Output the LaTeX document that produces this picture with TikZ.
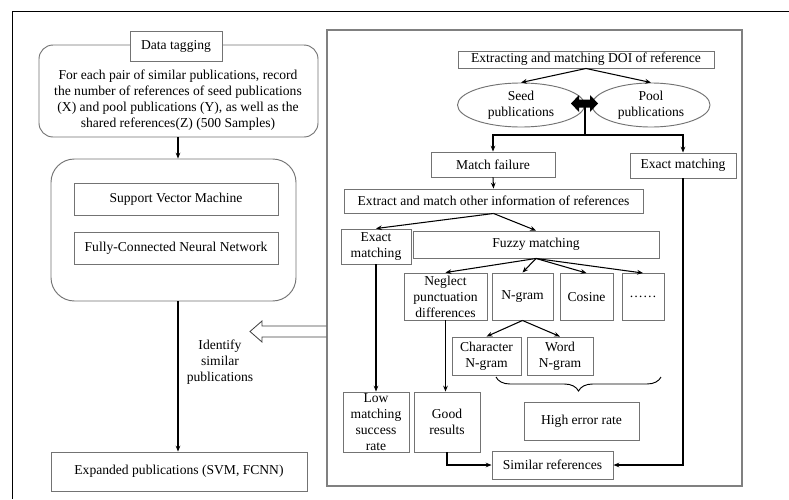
\documentclass[tikz,border=0pt]{standalone}
\usepackage{fontspec}
\setmainfont{Liberation Serif}
\usetikzlibrary{arrows.meta,shapes.geometric,decorations.pathreplacing}

\begin{document}
\begin{tikzpicture}[x=0.03cm, y=-0.03cm,
  every node/.style={font=\fontsize{11.6}{13.6}\selectfont, inner sep=0pt, align=center},
  box/.style={draw=black!55, line width=0.8pt, fill=white},
  oval/.style={ellipse, draw=black!55, line width=0.8pt},
  link/.style={line width=0.9pt, -{Stealth[length=5pt,width=4pt]}},
  plain/.style={line width=0.9pt}]
  \useasboundingbox (0,0) rectangle (789,499);
  \draw [line width=0.8pt] (12,499) -- (12,11) -- (789,11);

  % left column
  \node [box, rounded corners=12pt, minimum width=8.37cm, minimum height=2.76cm] (tagbox) at (178.5,91) {};
  \node [box, minimum width=2.76cm, minimum height=0.9cm] (tag) at (176,46) {Data tagging};
  \node (rec) at (178,100) {For each pair of similar publications, record\\the number of references of seed publications\\(X) and pool publications (Y), as well as the\\shared references(Z) (500 Samples)};
  \node [box, rounded corners=20pt, minimum width=7.35cm, minimum height=4.26cm] (model) at (173.5,230) {};
  \node [box, minimum width=6.12cm, minimum height=0.96cm] (svm) at (176,199) {Support Vector Machine};
  \node [box, minimum width=6.12cm, minimum height=0.96cm] (fcnn) at (176,248) {Fully-Connected Neural Network};
  \node [box, minimum width=7.68cm, minimum height=1.17cm] (exp) at (179,471.5) {Expanded publications (SVM, FCNN)};
  \node (ident) at (220,362) {Identify\\similar\\publications};
  \draw [link] (tagbox.south -| rec) -- (rec |- model.north);
  \draw [link] (model.south -| rec) -- (rec |- exp.north);

  % right panel
  \node [draw=black!50, line width=1pt, minimum width=12.45cm, minimum height=13.68cm] (panel) at (534.5,258) {};
  \draw [line width=0.7pt, draw=black!75] (panel.west |- 0,326) -- (262,326) -- (262,321) -- (250,331.5)
    -- (262,342) -- (262,337) -- (panel.west |- 0,337);

  \node [box, minimum width=7.68cm, minimum height=0.51cm] (doi) at (586,59.5) {Extracting and matching DOI of reference};
  \node [oval, minimum width=3.81cm, minimum height=1.32cm] (seed) at (521,105) {Seed\\publications};
  \node [oval, minimum width=3.54cm, minimum height=1.32cm] (pool) at (651,105) {Pool\\publications};
  \draw [link] (doi.south) -- (seed.north);
  \draw [link] (doi.south) -- (pool.north);
  \fill (571,103.5) -- (579,95) -- (579,99.5) -- (590,99.5) -- (590,95) -- (598,103.5)
    -- (590,112) -- (590,107.5) -- (579,107.5) -- (579,112) -- cycle;
  \coordinate (mid) at (585,107);
  \coordinate (fork) at (585,135);

  \node [box, minimum width=3.72cm, minimum height=0.75cm] (mfail) at (493,164.5) {Match failure};
  \node [box, minimum width=3.18cm, minimum height=0.75cm] (exact) at (683,165.5) {Exact matching};
  \draw [plain] (mid) -- (fork);
  \draw [link] (fork) -| (mfail.north);
  \draw [link] (fork) -| (exact.north);

  \node [box, minimum width=8.97cm, minimum height=0.72cm] (other) at (493.5,201) {Extract and match other information of references};
  \draw [link] (mfail.south) -- (other.north);

  \node [box, minimum width=2.1cm, minimum height=1.05cm] (exact2) at (376,246.5) {Exact\\matching};
  \node [box, minimum width=7.38cm, minimum height=0.81cm] (fuzzy) at (536,244.5) {Fuzzy matching};
  \draw [link] (other.south) -- (exact2.north);
  \draw [link] (other.south) -- (fuzzy.north);

  \node [box, minimum width=2.49cm, minimum height=1.41cm] (neglect) at (445.5,296.5) {Neglect\\punctuation\\differences};
  \node [box, minimum width=1.83cm, minimum height=1.41cm] (ngram) at (522.5,296.5) {N-gram};
  \node [box, minimum width=1.59cm, minimum height=1.41cm] (cosine) at (586.5,297) {Cosine};
  \node [box, minimum width=1.26cm, minimum height=1.41cm] (dots) at (643,297) {……};
  \draw [link] (fuzzy.south) -- (neglect.north);
  \draw [link] (fuzzy.south) -- (ngram.north);
  \draw [link] (fuzzy.south) -- (cosine.north);
  \draw [link] (fuzzy.south) -- (dots.north);

  \node [box, minimum width=2.07cm, minimum height=1.14cm] (char) at (486.5,356) {Character\\N-gram};
  \node [box, minimum width=1.98cm, minimum height=1.14cm] (word) at (560,356) {Word\\N-gram};
  \draw [link] (ngram.south) -- (char.north);
  \draw [link] (ngram.south) -- (word.north);
  \draw [decorate, decoration={brace, mirror, amplitude=0.42cm}, line width=0.8pt] (496,377) -- (661,377);
  \node [box, minimum width=3.45cm, minimum height=1.14cm] (high) at (581.5,421) {High error rate};

  \node [box, minimum width=1.98cm, minimum height=1.8cm] (low) at (376,422) {Low\\matching\\success\\rate};
  \node [box, minimum width=1.98cm, minimum height=1.8cm] (good) at (447,422) {Good\\results};
  \node [box, minimum width=3.63cm, minimum height=0.84cm] (sim) at (552.5,465) {Similar references};
  \draw [link] (exact2.south) -- (low.north);
  \draw [link] (neglect.south) -- (neglect.south |- good.north);
  \draw [link] (good.south) |- (sim.west);
  \draw [link] (exact.south) |- (sim.east);
\end{tikzpicture}
\end{document}
